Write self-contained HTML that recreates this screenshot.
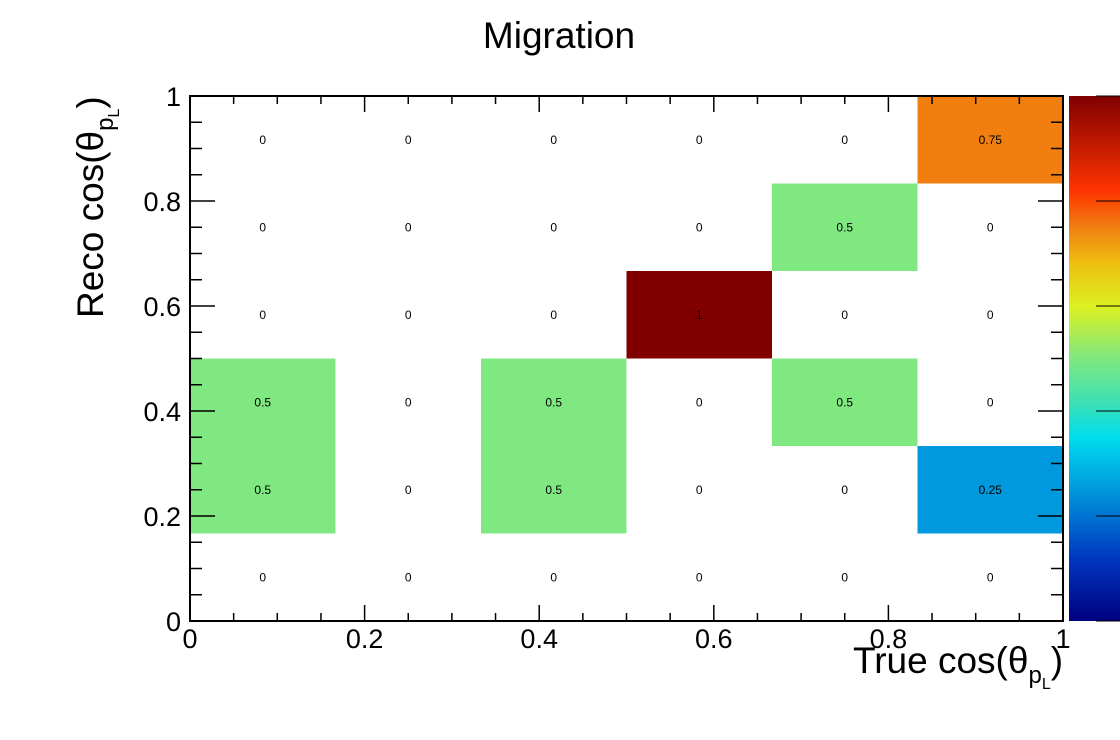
<!DOCTYPE html>
<html><head><meta charset="utf-8"><style>
html,body{margin:0;padding:0;background:#fff;}
svg{display:block;font-family:"Liberation Sans",sans-serif;}
</style></head><body>
<svg id="c" width="1120" height="740" viewBox="0 0 1120 740">
<defs>
<linearGradient id="pal" x1="0" y1="1" x2="0" y2="0">
<stop offset="0" stop-color="#000080"/>
<stop offset="0.12" stop-color="#0038c0"/>
<stop offset="0.25" stop-color="#0099dd"/>
<stop offset="0.35" stop-color="#00ddee"/>
<stop offset="0.42" stop-color="#40e0b0"/>
<stop offset="0.5" stop-color="#80e880"/>
<stop offset="0.6" stop-color="#ddf020"/>
<stop offset="0.68" stop-color="#eec010"/>
<stop offset="0.75" stop-color="#f07f10"/>
<stop offset="0.82" stop-color="#ff3300"/>
<stop offset="1" stop-color="#800000"/>
</linearGradient>
</defs>
<text x="559" y="48" font-size="37" text-anchor="middle">Migration</text>
<g id="cells"></g>
<g id="texts"></g>
<rect x="190" y="96" width="873" height="525" fill="none" stroke="#000" stroke-width="2"/>
<g id="ticks" stroke="#000" stroke-width="1.5"></g>
<g id="labels" font-size="27"></g>
<rect x="1069" y="96" width="51" height="525" fill="url(#pal)"/>
<g id="palticks" stroke="#000" stroke-width="1"></g>
<text transform="translate(103,318) rotate(-90)" font-size="37">Reco cos(θ<tspan font-size="24" dy="10">p</tspan><tspan font-size="16" dy="6">L</tspan><tspan font-size="37" dy="-16">)</tspan></text>
<text x="853" y="673" font-size="37">True cos(θ<tspan font-size="24" dy="10">p</tspan><tspan font-size="16" dy="6">L</tspan><tspan font-size="37" dy="-16">)</tspan></text>
</svg>
<script>
const xEdges = [0, 1/6, 2/6, 3/6, 4/6, 5/6, 1];
const yEdges = [0, 1/6, 2/6, 3/6, 4/6, 5/6, 1];
// rows from y bin 1 (bottom) to 6 (top)
const row1 = [0, 0, 0, 0, 0, 0];
const row2 = [0.5, 0, 0.5, 0, 0, 0.25];
const row3 = [0.5, 0, 0.5, 0, 0.5, 0];
const row4 = [0, 0, 0, 1, 0, 0];
const row5 = [0, 0, 0, 0, 0.5, 0];
const row6 = [0, 0, 0, 0, 0, 0.75];
const tickLabels = ["0", "0.2", "0.4", "0.6", "0.8", "1"];
const tickValues = [0, 0.2, 0.4, 0.6, 0.8, 1];

const X0 = 190, X1 = 1063, Y0 = 621, Y1 = 96;
const sx = v => X0 + v * (X1 - X0);
const sy = v => Y0 - v * (Y0 - Y1);
const stops = [[0,[0,0,128]],[0.12,[0,56,192]],[0.25,[0,153,221]],[0.35,[0,221,238]],[0.42,[64,224,176]],[0.5,[128,232,128]],[0.6,[221,240,32]],[0.68,[238,192,16]],[0.75,[240,127,16]],[0.82,[255,51,0]],[1,[128,0,0]]];
function color(v){
  for(let i=1;i<stops.length;i++){
    if(v<=stops[i][0]){
      const a=stops[i-1],b=stops[i],t=(v-a[0])/(b[0]-a[0]);
      const c=a[1].map((x,k)=>Math.round(x+(b[1][k]-x)*t));
      return `rgb(${c})`;
    }
  }
  return "rgb(128,0,0)";
}
const NS="http://www.w3.org/2000/svg";
const rows=[row1,row2,row3,row4,row5,row6];
const cells=document.getElementById('cells'), texts=document.getElementById('texts');
rows.forEach((row,j)=>{
  row.forEach((v,i)=>{
    const xa=sx(xEdges[i]),xb=sx(xEdges[i+1]),ya=sy(yEdges[j+1]),yb=sy(yEdges[j]);
    if(v>0){
      const r=document.createElementNS(NS,'rect');
      r.setAttribute('x',xa);r.setAttribute('y',ya);r.setAttribute('width',xb-xa);r.setAttribute('height',yb-ya);
      r.setAttribute('fill',color(v));
      
      
      cells.appendChild(r);
    }
    const t=document.createElementNS(NS,'text');
    t.setAttribute('x',(xa+xb)/2);t.setAttribute('y',(ya+yb)/2+4);
    t.setAttribute('font-size','12');t.setAttribute('text-anchor','middle');
    t.textContent=String(v);
    
    
    texts.appendChild(t);
  });
});
const tk=document.getElementById('ticks');
function line(x1,y1,x2,y2,p){const l=document.createElementNS(NS,'line');l.setAttribute('x1',x1);l.setAttribute('y1',y1);l.setAttribute('x2',x2);l.setAttribute('y2',y2);p.appendChild(l);return l;}
for(let k=0;k<=20;k++){
  const v=k*0.05, major=k%4===0;
  const x=sx(v), y=sy(v);
  line(x,Y0,x,Y0-(major?16:8),tk);
  line(x,Y1,x,Y1+(major?16:8),tk);
  line(X0,y,X0+(major?25:12),y,tk);
  line(X1,y,X1-(major?25:12),y,tk);
}
const lb=document.getElementById('labels');
tickValues.forEach((v,i)=>{
  const t=document.createElementNS(NS,'text');
  t.setAttribute('x',sx(v));t.setAttribute('y',648);t.setAttribute('text-anchor','middle');
  t.textContent=tickLabels[i];
  
  
  lb.appendChild(t);
  const u=document.createElementNS(NS,'text');
  u.setAttribute('x',181);u.setAttribute('y',sy(v)+10);u.setAttribute('text-anchor','end');
  u.textContent=tickLabels[i];
  
  
  lb.appendChild(u);
});
const pt=document.getElementById('palticks');
for(let k=0;k<=5;k++){
  const y=sy(k*0.2);
  line(1120,y,1096,y,pt);
}
</script>
</body></html>
